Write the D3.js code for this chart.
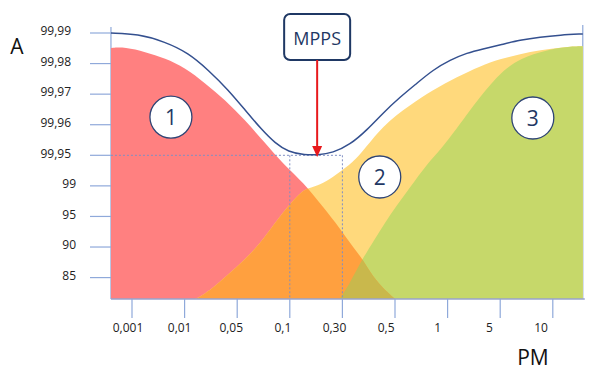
<!DOCTYPE html>
<html>
<head>
<meta charset="utf-8">
<script src="https://cdn.jsdelivr.net/npm/d3@7"></script>
<style>
  html, body { margin: 0; padding: 0; background: #fff; }
  svg { display: block; font-family: "Open Sans", "Liberation Sans", sans-serif; }
</style>
</head>
<body>
<svg id="chart" width="600" height="375"></svg>
<script>
// ---- data (x in PM tick-index units, y in A tick-index units) ----
const pmLabels = ["0,001", "0,01", "0,05", "0,1", "0,30", "0,5", "1", "5", "10"];
const aLabels = ["85", "90", "95", "99", "99,95", "99,96", "99,97", "99,98", "99,99"];

// zone 1 (red)
const zone1 = [[-0.40, 8.21], [-0.13, 8.24], [0.25, 8.08], [0.63, 7.88], [1.01, 7.56], [1.39, 7.06],
  [1.77, 6.51], [2.15, 5.85], [2.53, 5.10], [2.81, 4.55], [3.00, 4.22], [3.35, 3.63], [3.63, 3.01],
  [3.95, 2.32], [4.20, 1.70], [4.37, 1.34], [4.58, 0.72], [4.81, 0.29], [5.00, 0.00]];
// zone 2 (yellow)
const zone2 = [[1.20, 0.00], [1.29, 0.07], [1.54, 0.36], [2.00, 1.05], [2.38, 1.70], [2.62, 2.26],
  [2.95, 3.01], [3.19, 3.47], [3.35, 3.63], [3.57, 3.73], [3.82, 3.99], [4.09, 4.32], [4.34, 4.71],
  [4.77, 5.69], [5.29, 6.35], [5.72, 6.84], [6.18, 7.26], [6.62, 7.62], [7.00, 7.85], [7.38, 8.01],
  [7.76, 8.14], [8.19, 8.24], [8.57, 8.27]];
// zone 3 (green)
const zone3 = [[3.95, 0.00], [4.14, 0.52], [4.37, 1.28], [4.58, 1.86], [4.91, 2.78], [5.29, 3.66],
  [5.61, 4.42], [5.86, 4.87], [6.18, 5.59], [6.43, 6.18], [6.62, 6.61], [6.81, 7.00], [7.05, 7.46],
  [7.38, 7.88], [7.89, 8.14], [8.19, 8.24], [8.57, 8.27]];
// overall efficiency envelope (blue line)
const envelope = [[-0.40, 8.70], [0.11, 8.67], [0.63, 8.41], [1.07, 8.05], [1.45, 7.49], [1.83, 6.84],
  [2.15, 6.18], [2.47, 5.53], [2.72, 5.10], [2.97, 4.81], [3.29, 4.71], [3.52, 4.71], [3.82, 4.78],
  [4.14, 5.04], [4.47, 5.53], [4.77, 6.08], [5.10, 6.61], [5.42, 7.06], [5.72, 7.49], [6.05, 7.82],
  [6.37, 8.05], [6.67, 8.18], [7.00, 8.31], [7.38, 8.47], [7.76, 8.57], [8.14, 8.63], [8.57, 8.67]];

const zoneMarkers = [{ label: "1", x: 0.74, y: 5.95 }, { label: "2", x: 4.71, y: 3.99 }, { label: "3", x: 7.62, y: 5.92 }];
const mpps = { label: "MPPS", x: 3.52, y: 4.71 };
const guideX = [3, 4];      // indices of 0,1 and 0,30
const guideY = 4.7;         // level of 99,95
const xMin = -0.40, xMax = 8.57;

// ---- scales ----
const x = d3.scaleLinear().domain([0, 8]).range([132, 552.8]);
const xLab = d3.scaleLinear().domain([0, 8]).range([128, 541]);
const y = d3.scaleLinear().domain([0, 8.7]).range([299, 33]);

const svg = d3.select("#chart");
const axisColor = "#8FA9DA";

// frame lines
svg.append("line").attr("x1", x(xMin)).attr("x2", x(xMin)).attr("y1", 27).attr("y2", y(0))
  .attr("stroke", axisColor).attr("stroke-width", 1.2);
svg.append("line").attr("x1", x(xMax)).attr("x2", x(xMax)).attr("y1", 25).attr("y2", y(0))
  .attr("stroke", axisColor).attr("stroke-width", 1.2);

// areas
const area = d3.area().x(d => x(d[0])).y0(y(0)).y1(d => y(d[1])).curve(d3.curveBasis);
const defs = svg.append("defs");
defs.append("clipPath").attr("id", "clipRed").append("path").attr("d", area(zone1));

svg.append("path").attr("d", area(zone1)).attr("fill", "#FF8080");
svg.append("path").attr("d", area(zone2)).attr("fill", "#FFD97C");
svg.append("path").attr("d", area(zone3)).attr("fill", "#C6D86A");
svg.append("path").attr("d", area(zone2)).attr("fill", "#FFA03F").attr("clip-path", "url(#clipRed)");
svg.append("path").attr("d", area(zone3)).attr("fill", "#C9B84C").attr("clip-path", "url(#clipRed)");

// axes lines
svg.append("line").attr("x1", x(xMin)).attr("x2", x(xMax) + 2).attr("y1", y(0)).attr("y2", y(0))
  .attr("stroke", "#98A3CC").attr("stroke-width", 1.5);

// y ticks
const yTicks = aLabels.map((l, i) => ({ l, v: 0.7 + i }));
svg.selectAll(".ytick").data(yTicks).enter().append("line")
  .attr("x1", 90).attr("x2", x(xMin)).attr("y1", d => y(d.v)).attr("y2", d => y(d.v))
  .attr("stroke", axisColor).attr("stroke-width", 1.2);
svg.selectAll(".ylab").data(yTicks).enter().append("text")
  .attr("x", d => d.l.length > 2 ? 71 : 76).attr("y", d => y(d.v) - 1)
  .attr("text-anchor", "end").attr("dominant-baseline", "middle")
  .attr("font-size", 12).attr("fill", "#222").text(d => d.l);

// x ticks
svg.selectAll(".xtick").data(pmLabels).enter().append("line")
  .attr("x1", (d, i) => x(i)).attr("x2", (d, i) => x(i)).attr("y1", y(0)).attr("y2", 318)
  .attr("stroke", axisColor).attr("stroke-width", 1.2);
svg.selectAll(".xlab").data(pmLabels).enter().append("text")
  .attr("x", (d, i) => xLab(i)).attr("y", 332)
  .attr("text-anchor", "middle").attr("font-size", 12).attr("fill", "#222").text(d => d);

// guides
const dash = { stroke: "#7F8FC4", "stroke-width": 1, "stroke-dasharray": "2,2" };
const gh = svg.append("line").attr("x1", x(xMin)).attr("x2", x(guideX[1])).attr("y1", y(guideY)).attr("y2", y(guideY));
Object.entries(dash).forEach(([k, v]) => gh.attr(k, v));
guideX.forEach(g => {
  const l = svg.append("line").attr("x1", x(g)).attr("x2", x(g)).attr("y1", y(guideY)).attr("y2", y(0));
  Object.entries(dash).forEach(([k, v]) => l.attr(k, v));
});

// envelope line
svg.append("path").attr("d", d3.line().x(d => x(d[0])).y(d => y(d[1])).curve(d3.curveBasis)(envelope))
  .attr("fill", "none").attr("stroke", "#34508F").attr("stroke-width", 1.5);

// zone markers
const zm = svg.selectAll(".zm").data(zoneMarkers).enter().append("g")
  .attr("transform", d => `translate(${x(d.x)},${y(d.y)})`);
zm.append("circle").attr("r", 21).attr("fill", "#fff").attr("stroke", "#2E4475").attr("stroke-width", 1.3);
zm.append("text").attr("text-anchor", "middle").attr("dominant-baseline", "central")
  .attr("font-size", 21).attr("fill", "#1F3864").text(d => d.label);

// MPPS callout
const mx = x(mpps.x);
svg.append("rect").attr("x", mx - 33).attr("y", 14).attr("width", 66).attr("height", 46).attr("rx", 6)
  .attr("fill", "#fff").attr("stroke", "#1F3864").attr("stroke-width", 2);
svg.append("text").attr("x", mx).attr("y", 38).attr("text-anchor", "middle").attr("dominant-baseline", "central")
  .attr("font-size", 18).attr("fill", "#1F3864").text(mpps.label);
const tipY = y(mpps.y) + 2;
svg.append("line").attr("x1", mx).attr("x2", mx).attr("y1", 60).attr("y2", tipY - 9)
  .attr("stroke", "#E8191C").attr("stroke-width", 2);
svg.append("path").attr("d", `M${mx - 5},${tipY - 11} L${mx + 5},${tipY - 11} L${mx},${tipY} Z`).attr("fill", "#E8191C");

// axis titles
svg.append("text").attr("x", 17).attr("y", 46).attr("text-anchor", "middle").attr("dominant-baseline", "central")
  .attr("font-size", 21).attr("fill", "#111").text("A");
svg.append("text").attr("x", 533).attr("y", 357).attr("text-anchor", "middle").attr("dominant-baseline", "central")
  .attr("font-size", 21).attr("fill", "#111").text("PM");
</script>
</body>
</html>
